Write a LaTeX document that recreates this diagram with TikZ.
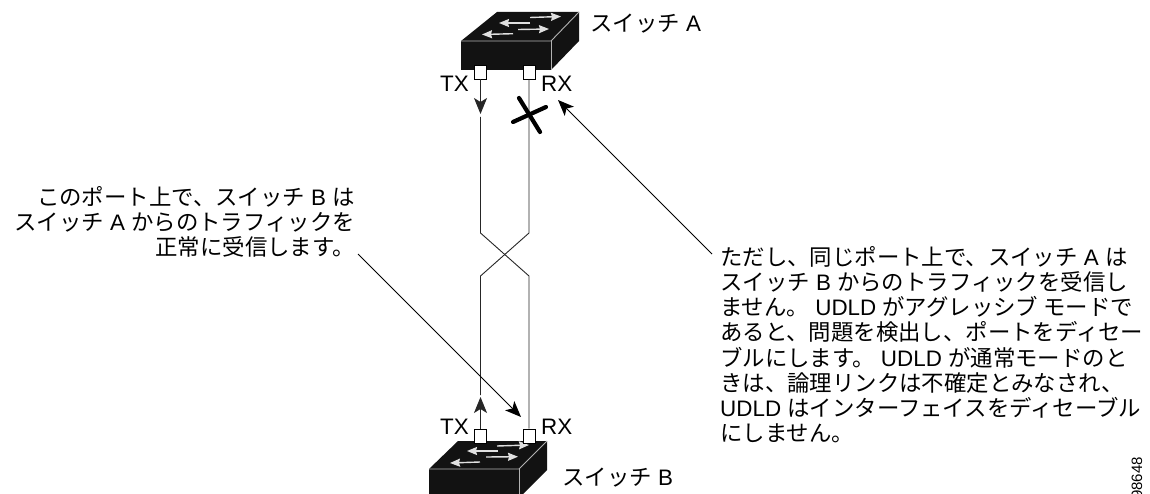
\documentclass[tikz,border=0pt]{standalone}
\usepackage{fontspec}
\setmainfont{Liberation Sans}
\newfontfamily\jpf{Noto Sans CJK JP}
\newcommand{\J}[1]{{\jpf #1}}
\usetikzlibrary{arrows.meta}
\tikzset{
  x=1pt,y=-1pt,
  wire/.style={line width=0.9pt,draw=black!85},
  wirearrow/.style={line width=0.9pt,draw=black!85,-{Stealth[length=16pt,width=13pt,inset=4pt]}},
  lead/.style={line width=0.9pt,draw=black,-{Stealth[length=16pt,width=13pt,inset=4pt]}},
  port/.style={draw=black,fill=white,line width=0.8pt,minimum width=12pt,minimum height=14pt,inner sep=0pt},
  lab/.style={font=\fontsize{22.4}{25.2}\selectfont,inner sep=0pt},
  sw/.style={fill=black!93},
  edge/.style={draw=white!70!black,line width=0.9pt},
  harrow/.style={line width=1.4pt,draw=white!88!black,-{Stealth[length=10pt,width=8pt,inset=1pt]}},
  cross/.style={line width=4.2pt,line cap=round,draw=black},
}
\begin{document}
\begin{tikzpicture}
\useasboundingbox (0,0) rectangle (1150,494);
% switch A
\fill[sw] (497,12) -- (579,12) -- (579,41) -- (551,70) -- (461,70) -- (461,41) -- cycle;
\draw[edge] (461,41) -- (551,41) -- (579,12);
\draw[edge] (551,41) -- (551,70);
\draw[harrow] (530,17.5) -- (561,16.5);
\draw[harrow] (530,23) -- (499,23);
\draw[harrow] (518,29.5) -- (549,29);
\draw[harrow] (513,33.7) -- (482,34.5);
% switch B
\fill[sw] (458,441) -- (547,441) -- (547,470) -- (519,498) -- (429,498) -- (429,469) -- cycle;
\draw[edge] (429,469) -- (519,469) -- (547,441);
\draw[edge] (519,469) -- (519,494);
\draw[harrow] (497,446) -- (529,445);
\draw[harrow] (498,451) -- (467,451);
\draw[harrow] (486,457) -- (518,456.7);
\draw[harrow] (480,462) -- (450,463);
% ports
\node[port] (atx) at (480.5,72) {};
\node[port] (arx) at (529,72) {};
\node[port] (btx) at (480.5,436) {};
\node[port] (brx) at (529,436) {};
% wires
\coordinate (a1) at (480.5,117);
\coordinate (a2) at (480.5,233);
\coordinate (a3) at (529,276);
\coordinate (b1) at (529,233);
\coordinate (b2) at (480.5,276);
\coordinate (b3) at (480.5,395);
\coordinate (atip) at (480.5,114);
\coordinate (btip) at (480.5,397);
\draw[wire] (a1) -- (a2) -- (a3) -- (brx.north);
\draw[wire] (arx.south) -- (b1) -- (b2) -- (b3);
\draw[wirearrow] (atx.south) -- (atip);
\draw[wirearrow] (btx.north) -- (btip);
% cross
\coordinate (c1) at (513,122);
\coordinate (c2) at (546,107);
\coordinate (c3) at (519,98);
\coordinate (c4) at (540,132);
\draw[cross] (c1) -- (c2);
\draw[cross] (c3) -- (c4);
% labels
\node[lab,anchor=base west] (la) at (590,32) {\J{スイッチ} A};
\node[lab,anchor=base west] (lb) at (562,485) {\J{スイッチ} B};
\node[lab,anchor=base west] (t1) at (440,92) {TX};
\node[lab,anchor=base west] (r1) at (541,92) {RX};
\node[lab,anchor=base west] (t2) at (440,434) {TX};
\node[lab,anchor=base west] (r2) at (541,434) {RX};
% callouts
\node[lab,anchor=north east,align=right] (left) at (355,186) {\J{このポート上で、スイッチ} B \J{は}\\\J{スイッチ} A \J{からのトラフィックを}\\\J{正常に受信します。}};
\node[lab,anchor=north west,align=left] (right) at (720,246) {\J{ただし、同じポート上で、スイッチ} A \J{は}\\\J{スイッチ} B \J{からのトラフィックを受信し}\\\J{ません。} UDLD \J{がアグレッシブ モードで}\\\J{あると、問題を検出し、ポートをディセー}\\\J{ブルにします。} UDLD \J{が通常モードのと}\\\J{きは、論理リンクは不確定とみなされ、}\\UDLD \J{はインターフェイスをディセーブル}\\\J{にしません。}};
\coordinate (ls) at (358,254);
\coordinate (le) at (521,417);
\coordinate (rs) at (712,254);
\coordinate (re) at (558,100);
\draw[lead] (ls) -- (le);
\draw[lead] (rs) -- (re);
\node[anchor=base east,rotate=90,font=\fontsize{15}{17}\selectfont,inner sep=0pt] (id) at (1142,457) {98648};
\end{tikzpicture}
\end{document}
